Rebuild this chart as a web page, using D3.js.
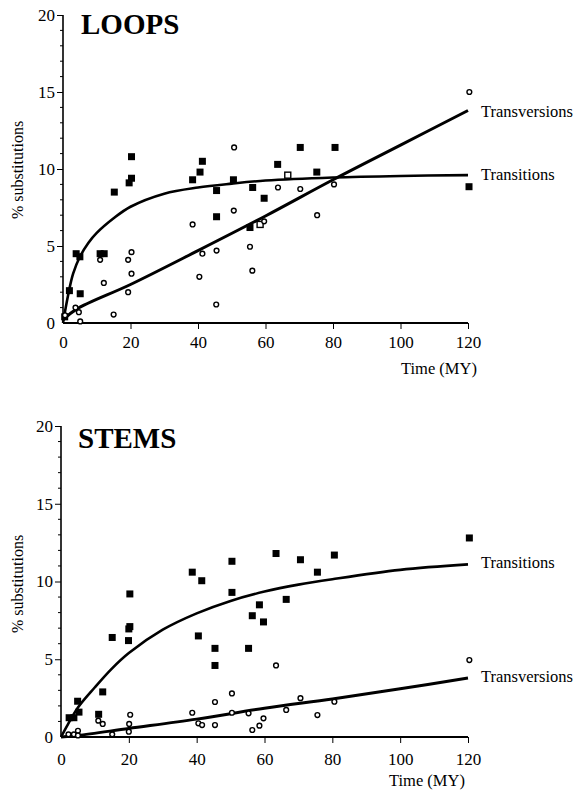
<!DOCTYPE html>
<html>
<head>
<meta charset="utf-8">
<script src="https://cdn.jsdelivr.net/npm/d3@7"></script>
<style>
  body { margin: 0; background: #fff; }
  svg text { font-family: "Liberation Serif", "Times New Roman", serif; fill: #000; }
</style>
</head>
<body>
<script>
// axis ticks
var xTicks = [0, 20, 40, 60, 80, 100, 120];
var yTicks = [0, 5, 10, 15, 20];

// LOOPS: [time MY, % substitutions]
var loopsTransitions = [
    [0.5, 0.4], [1.9, 2.1], [3.9, 4.5], [5.0, 4.3], [5.1, 1.9], [11, 4.5], [12.2, 4.5],
    [15.2, 8.5], [19.6, 9.1], [20.3, 9.4], [20.3, 10.8], [38.4, 9.3], [40.6, 9.8],
    [41.3, 10.5], [45.5, 8.6], [45.5, 6.9], [50.5, 9.3], [55.4, 6.2], [56.2, 8.8],
    [59.6, 8.1], [63.6, 10.3], [70.3, 11.4], [75.2, 9.8], [80.6, 11.4], [120.3, 8.85]
];
var loopsTransversions = [
    [0.6, 0.5], [3.7, 1.0], [4.7, 0.7], [5.1, 0.1], [11, 4.1], [12.1, 2.6], [15.0, 0.55],
    [19.3, 4.1], [20.3, 4.6], [20.3, 3.2], [19.3, 2.0], [38.4, 6.4], [40.4, 3.0],
    [41.3, 4.5], [45.5, 4.7], [45.4, 1.2], [50.7, 11.4], [50.6, 7.3], [55.4, 4.95],
    [56.1, 3.4], [59.6, 6.6], [63.7, 8.8], [70.3, 8.7], [75.3, 7.0], [80.3, 9.0], [120.4, 15.0]
];
var loopsOverlap = [[58.4, 6.4], [66.6, 9.6]];
var loopsTsCurve = [
    [0, 0], [1.6, 1.9], [3, 3.2], [5, 4.3], [7.5, 5.2], [10, 5.85], [15, 6.8], [20, 7.55],
    [30, 8.4], [40, 8.8], [50, 9.05], [60, 9.25], [80, 9.45], [100, 9.55], [120, 9.6]
];
var loopsTvCurve = [
    [0, 0.2], [4, 0.9], [20, 2.5], [40, 4.7], [60, 6.95], [80, 9.3], [100, 11.55], [120, 13.8]
];

// STEMS
var stemsTransitions = [
    [2.4, 1.24], [3.8, 1.24], [4.9, 2.3], [5.3, 1.6], [11.1, 1.46], [12.3, 2.9], [15.1, 6.4],
    [19.9, 6.2], [20.0, 6.95], [20.3, 7.1], [20.3, 9.2], [38.7, 10.6], [41.5, 10.05],
    [40.5, 6.5], [45.4, 5.7], [45.4, 4.6], [50.4, 11.3], [50.4, 9.3], [55.3, 5.7],
    [56.4, 7.8], [58.5, 8.5], [59.7, 7.4], [63.4, 11.8], [66.4, 8.85], [70.6, 11.4],
    [75.6, 10.6], [80.6, 11.7], [120.4, 12.8]
];
var stemsTransversions = [
    [2.2, 0.17], [3.8, 0.17], [5.0, 0.4], [5.0, 0.1], [11.0, 1.05], [12.3, 0.84], [15.1, 0.17],
    [20.1, 0.84], [20.4, 1.43], [20.0, 0.34], [38.7, 1.56], [40.5, 0.88], [41.6, 0.77],
    [45.4, 2.25], [45.4, 0.77], [50.4, 2.8], [50.4, 1.56], [55.3, 1.52], [56.4, 0.45],
    [58.5, 0.73], [59.7, 1.2], [63.4, 4.6], [66.4, 1.74], [70.6, 2.5], [75.6, 1.41],
    [80.6, 2.27], [120.4, 4.95]
];
var stemsTsCurve = [
    [0, 0], [2, 0.8], [5, 1.9], [10, 3.2], [15, 4.4], [20, 5.4], [30, 6.9], [40, 7.95],
    [50, 8.75], [60, 9.35], [70, 9.8], [80, 10.15], [100, 10.75], [120, 11.1]
];
var stemsTvCurve = [
    [0, 0], [5, 0.1], [20, 0.55], [40, 1.15], [60, 1.85], [80, 2.45], [100, 3.1], [120, 3.8]
];

window.onload = function () {
    var width = 575, height = 792;
    var svg = d3.select("body").append("svg")
        .attr("width", width)
        .attr("height", height);

    var panels = [
        {
            title: "LOOPS", x0: 63, x1: 468, yTop: 15, yBot: 323,
            titleX: 81, titleY: 34, labelY: 170, tickPad: 7,
            timeX: 401, timeY: 374,
            ts: loopsTransitions, tv: loopsTransversions, extra: loopsOverlap,
            tsCurve: loopsTsCurve, tvCurve: loopsTvCurve,
            tsLabelY: 180, tvLabelY: 117
        },
        {
            title: "STEMS", x0: 61, x1: 468, yTop: 426, yBot: 737,
            titleX: 78, titleY: 448, labelY: 584, tickPad: 10,
            timeX: 389, timeY: 786,
            ts: stemsTransitions, tv: stemsTransversions, extra: [],
            tsCurve: stemsTsCurve, tvCurve: stemsTvCurve,
            tsLabelY: 568, tvLabelY: 682
        }
    ];

    panels.forEach(function (p) {
        var x = d3.scaleLinear().domain([0, 120]).range([p.x0, p.x1]);
        var y = d3.scaleLinear().domain([0, 20]).range([p.yBot, p.yTop]);
        var g = svg.append("g");

        // y axis, minor ticks every unit
        var yAxis = d3.axisLeft(y).tickValues(yTicks).tickSize(6).tickPadding(2)
            .tickFormat(d3.format("d"));
        var ya = g.append("g").attr("transform", "translate(" + p.x0 + ",0)").call(yAxis);
        ya.selectAll("g.tick").filter(function (d) { return d === 0; }).select("line").remove();
        ya.select(".domain").attr("d", "M0," + p.yTop + "V" + p.yBot).attr("stroke-width", 1.6);
        ya.selectAll("text").style("font-size", "17px");
        g.append("g").selectAll("line")
            .data(d3.range(1, 20).filter(function (v) { return v % 5 !== 0; }))
            .enter().append("line")
            .attr("x1", p.x0 - 3).attr("x2", p.x0)
            .attr("y1", function (d) { return y(d); })
            .attr("y2", function (d) { return y(d); })
            .attr("stroke", "#000").attr("stroke-width", 1);

        // x axis
        var xAxis = d3.axisBottom(x).tickValues(xTicks).tickSize(6).tickPadding(p.tickPad);
        var xa = g.append("g").attr("transform", "translate(0," + p.yBot + ")").call(xAxis);
        xa.select(".domain").attr("d", "M" + p.x0 + ",0H" + p.x1).attr("stroke-width", 2);
        xa.selectAll("text").style("font-size", "17px");
        xa.selectAll("g.tick").filter(function (d) { return d === 0; }).select("line").remove();

        g.append("text").attr("x", p.timeX).attr("y", p.timeY)
            .style("font-size", "16.5px").text("Time (MY)");
        g.append("text")
            .attr("transform", "translate(23," + p.labelY + ") rotate(-90)")
            .attr("text-anchor", "middle").style("font-size", "16px").text("% substitutions");
        g.append("text").attr("x", p.titleX).attr("y", p.titleY)
            .style("font-size", "29px").style("font-weight", "bold").text(p.title);

        // fitted curves
        var line = d3.line()
            .x(function (d) { return x(d[0]); })
            .y(function (d) { return y(d[1]); })
            .curve(d3.curveCatmullRom.alpha(0.5));
        g.append("path").datum(p.tsCurve).attr("d", line)
            .attr("fill", "none").attr("stroke", "#000").attr("stroke-width", 2.6);
        g.append("path").datum(p.tvCurve).attr("d", line)
            .attr("fill", "none").attr("stroke", "#000").attr("stroke-width", 3);

        // points
        g.append("g").selectAll("rect").data(p.ts).enter().append("rect")
            .attr("x", function (d) { return x(d[0]) - 3.5; })
            .attr("y", function (d) { return y(d[1]) - 3.5; })
            .attr("width", 7).attr("height", 7).attr("fill", "#000");
        g.append("g").selectAll("rect").data(p.extra).enter().append("rect")
            .attr("x", function (d) { return x(d[0]) - 3; })
            .attr("y", function (d) { return y(d[1]) - 3; })
            .attr("width", 6).attr("height", 6)
            .attr("fill", "#fff").attr("stroke", "#000").attr("stroke-width", 1.4);
        g.append("g").selectAll("circle").data(p.tv).enter().append("circle")
            .attr("cx", function (d) { return x(d[0]); })
            .attr("cy", function (d) { return y(d[1]); })
            .attr("r", 2.4)
            .attr("fill", "#fff").attr("stroke", "#000").attr("stroke-width", 1.4);

        g.append("text").attr("x", 481).attr("y", p.tsLabelY)
            .style("font-size", "16.5px").text("Transitions");
        g.append("text").attr("x", 481).attr("y", p.tvLabelY)
            .style("font-size", "16.5px").text("Transversions");
    });
};
</script>
</body>
</html>
